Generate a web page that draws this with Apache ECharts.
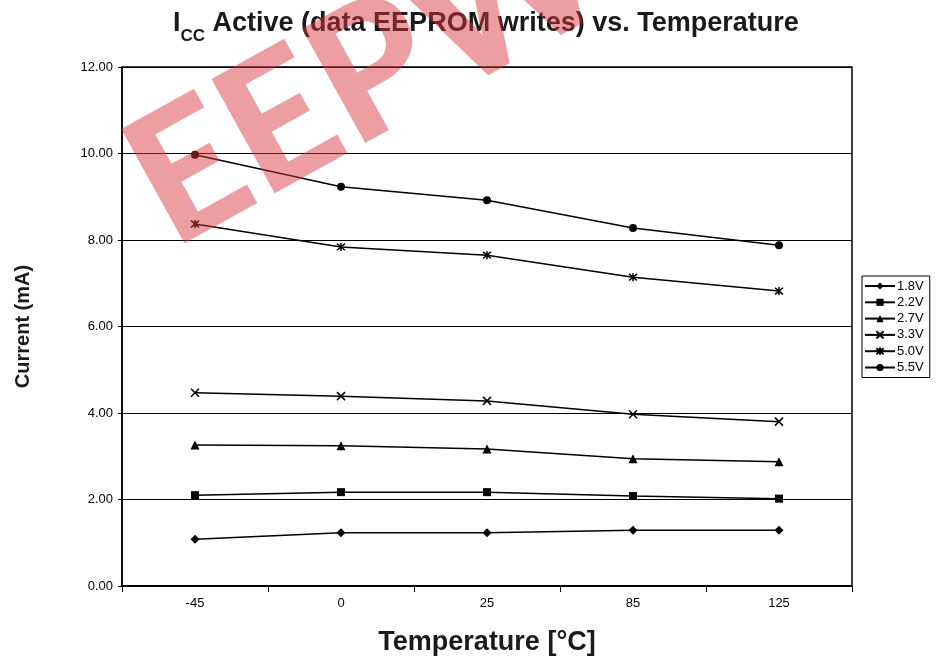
<!DOCTYPE html>
<html>
<head>
<meta charset="utf-8">
<script src="https://cdn.jsdelivr.net/npm/echarts@6/dist/echarts.min.js"></script>
<style>html,body{margin:0;padding:0;background:#fff;}#c{width:936px;height:660px;}</style>
</head>
<body>
<div id="c"></div>
<script>
const categories = ['-45', '0', '25', '85', '125'];
const seriesNames = ['1.8V', '2.2V', '2.7V', '3.3V', '5.0V', '5.5V'];
const v18 = [1.08, 1.23, 1.23, 1.29, 1.29];
const v22 = [2.10, 2.17, 2.17, 2.08, 2.02];
const v27 = [3.26, 3.24, 3.17, 2.94, 2.87];
const v33 = [4.47, 4.39, 4.28, 3.97, 3.80];
const v50 = [8.37, 7.84, 7.65, 7.14, 6.82];
const v55 = [9.97, 9.23, 8.92, 8.28, 7.88];
const yTicks = [0, 2, 4, 6, 8, 10, 12];

const values = [v18, v22, v27, v33, v50, v55];
const symbols = [
  {symbol: 'diamond', size: 9, hollow: false},
  {symbol: 'rect', size: 8, hollow: false},
  {symbol: 'triangle', size: 9, hollow: false},
  {symbol: 'path://M0,0L10,10M10,0L0,10', size: 8, hollow: true},
  {symbol: 'path://M0,0L10,10M10,0L0,10M5,-1L5,11', size: 8, hollow: true},
  {symbol: 'circle', size: 8, hollow: false}
];

const chart = echarts.init(document.getElementById('c'), null, {renderer: 'canvas'});
const font = 'Arial, "Liberation Sans", Helvetica, sans-serif';

const series = seriesNames.map((name, i) => ({
  name: name,
  type: 'line',
  data: values[i],
  symbol: symbols[i].symbol,
  symbolSize: symbols[i].size,
  showAllSymbol: true,
  lineStyle: {color: '#000', width: 1.5},
  itemStyle: symbols[i].hollow
    ? {color: 'rgba(0,0,0,0)', borderColor: '#000', borderWidth: 1.5}
    : {color: '#000', borderColor: '#000', borderWidth: 0},
  emphasis: {disabled: true},
  animation: false
}));

chart.setOption({
  animation: false,
  backgroundColor: '#fff',
  title: {
    left: 168,
    top: 5,
    text: '{a|I}{s|CC}{a| Active (data EEPROM writes) vs. Temperature}',
    textStyle: {
      rich: {
        a: {fontFamily: font, fontWeight: 'bold', fontSize: 27, color: '#1a1a1a', lineHeight: 30, verticalAlign: 'top'},
        s: {fontFamily: font, fontWeight: 'bold', fontSize: 17, color: '#1a1a1a', lineHeight: 35, verticalAlign: 'bottom'}
      }
    }
  },
  legend: {
    orient: 'vertical',
    left: 862,
    top: 276,
    padding: [3, 6, 3, 2],
    itemWidth: 30,
    itemHeight: 9,
    itemGap: 2.3,
    borderColor: '#000',
    borderWidth: 1,
    textStyle: {fontFamily: font, fontSize: 13, lineHeight: 14, color: '#000', padding: [0, 0, 0, -3]},
    data: seriesNames
  },
  grid: {
    left: 122, right: 84, top: 67, bottom: 74,
    containLabel: false,
    outerBoundsMode: 'none',
    show: true, borderColor: '#000', borderWidth: 1.5, backgroundColor: 'transparent'
  },
  xAxis: {
    type: 'category',
    data: categories,
    boundaryGap: true,
    name: 'Temperature [°C]',
    nameLocation: 'middle',
    nameGap: 43,
    nameTextStyle: {fontFamily: font, fontWeight: 'bold', fontSize: 27, color: '#1a1a1a'},
    axisLine: {lineStyle: {color: '#000', width: 2}},
    axisTick: {show: true, length: 6, lineStyle: {color: '#000', width: 1}},
    axisLabel: {fontFamily: font, fontSize: 13, color: '#000', margin: 11},
    splitLine: {show: false}
  },
  yAxis: {
    type: 'value',
    min: 0,
    max: 12,
    interval: 2,
    name: 'Current (mA)',
    nameLocation: 'middle',
    nameGap: 89,
    nameRotate: 90,
    nameTextStyle: {fontFamily: font, fontWeight: 'bold', fontSize: 20, color: '#1a1a1a'},
    axisLine: {show: true, lineStyle: {color: '#000', width: 1.5}},
    axisTick: {show: true, length: 4, lineStyle: {color: '#000', width: 1}},
    axisLabel: {
      fontFamily: font, fontSize: 13, color: '#000', margin: 9,
      formatter: v => yTicks.indexOf(v) >= 0 ? v.toFixed(2) : ''
    },
    splitLine: {show: true, lineStyle: {color: '#000', width: 1}}
  },
  series: series,
  graphic: [{
    type: 'text',
    x: 188,
    y: 278,
    rotation: 29 * Math.PI / 180,
    silent: true,
    z: 100,
    style: {
      text: 'EEPW',
      font: '900 180px Lato, Inter, "DejaVu Sans", sans-serif',
      fill: 'rgb(216,52,60)',
      opacity: 0.48,
      textAlign: 'left',
      textVerticalAlign: 'bottom'
    }
  }]
});
</script>
</body>
</html>
